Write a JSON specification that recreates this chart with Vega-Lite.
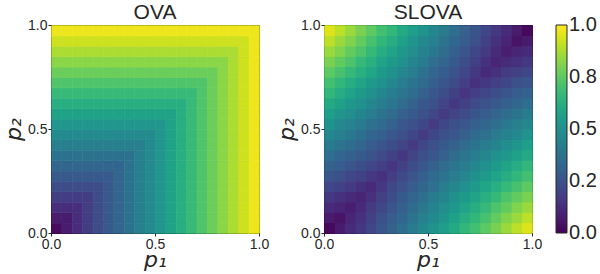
{
"$schema": "https://vega.github.io/schema/vega-lite/v6.json",
"background": "white",
"padding": {"left": 2, "top": 1, "right": 0, "bottom": 0},
"config": {
  "font": "Liberation Sans",
  "view": {"stroke": "#000", "strokeWidth": 1},
  "rect": {"binSpacing": 0},
  "axis": {"labelFontSize": 14, "labelColor": "#262626", "tickColor": "#262626", "tickSize": 3, "domain": false, "grid": false, "labelFlush": false, "labelPadding": 1, "titleFont": "DejaVu Sans", "titleFontStyle": "italic", "titleFontWeight": "normal", "titleFontSize": 22, "titleColor": "#262626", "titlePadding": 2},
  "axisX": {"titlePadding": -2},
  "title": {"fontSize": 21, "fontWeight": "normal", "color": "#262626", "offset": -5},
  "legend": {"gradientLength": 208, "gradientThickness": 11, "labelFontSize": 20, "labelColor": "#262626", "labelOffset": 5, "offset": 24, "gradientStrokeColor": "#262626", "gradientStrokeWidth": 1},
  "concat": {"spacing": 5}
},
"data": {"values": [
{"x":0.025,"y":0.025,"o":0.025,"s":0.02},{"x":0.075,"y":0.025,"o":0.075,"s":0.07},{"x":0.125,"y":0.025,"o":0.125,"s":0.12},{"x":0.175,"y":0.025,"o":0.175,"s":0.16},{"x":0.225,"y":0.025,"o":0.225,"s":0.21},{"x":0.275,"y":0.025,"o":0.275,"s":0.26},{"x":0.325,"y":0.025,"o":0.325,"s":0.31},{"x":0.375,"y":0.025,"o":0.375,"s":0.36},{"x":0.425,"y":0.025,"o":0.425,"s":0.41},{"x":0.475,"y":0.025,"o":0.475,"s":0.46},{"x":0.525,"y":0.025,"o":0.525,"s":0.51},{"x":0.575,"y":0.025,"o":0.575,"s":0.56},{"x":0.625,"y":0.025,"o":0.625,"s":0.61},{"x":0.675,"y":0.025,"o":0.675,"s":0.66},{"x":0.725,"y":0.025,"o":0.725,"s":0.70},{"x":0.775,"y":0.025,"o":0.775,"s":0.75},{"x":0.825,"y":0.025,"o":0.825,"s":0.80},{"x":0.875,"y":0.025,"o":0.875,"s":0.85},{"x":0.925,"y":0.025,"o":0.925,"s":0.90},{"x":0.975,"y":0.025,"o":0.975,"s":0.95},
{"x":0.025,"y":0.075,"o":0.075,"s":0.07},{"x":0.075,"y":0.075,"o":0.075,"s":0.05},{"x":0.125,"y":0.075,"o":0.125,"s":0.10},{"x":0.175,"y":0.075,"o":0.175,"s":0.14},{"x":0.225,"y":0.075,"o":0.225,"s":0.19},{"x":0.275,"y":0.075,"o":0.275,"s":0.24},{"x":0.325,"y":0.075,"o":0.325,"s":0.29},{"x":0.375,"y":0.075,"o":0.375,"s":0.33},{"x":0.425,"y":0.075,"o":0.425,"s":0.38},{"x":0.475,"y":0.075,"o":0.475,"s":0.43},{"x":0.525,"y":0.075,"o":0.525,"s":0.47},{"x":0.575,"y":0.075,"o":0.575,"s":0.52},{"x":0.625,"y":0.075,"o":0.625,"s":0.57},{"x":0.675,"y":0.075,"o":0.675,"s":0.62},{"x":0.725,"y":0.075,"o":0.725,"s":0.66},{"x":0.775,"y":0.075,"o":0.775,"s":0.71},{"x":0.825,"y":0.075,"o":0.825,"s":0.76},{"x":0.875,"y":0.075,"o":0.875,"s":0.81},{"x":0.925,"y":0.075,"o":0.925,"s":0.85},{"x":0.975,"y":0.075,"o":0.975,"s":0.90},
{"x":0.025,"y":0.125,"o":0.125,"s":0.12},{"x":0.075,"y":0.125,"o":0.125,"s":0.10},{"x":0.125,"y":0.125,"o":0.125,"s":0.08},{"x":0.175,"y":0.125,"o":0.175,"s":0.12},{"x":0.225,"y":0.125,"o":0.225,"s":0.17},{"x":0.275,"y":0.125,"o":0.275,"s":0.21},{"x":0.325,"y":0.125,"o":0.325,"s":0.26},{"x":0.375,"y":0.125,"o":0.375,"s":0.30},{"x":0.425,"y":0.125,"o":0.425,"s":0.35},{"x":0.475,"y":0.125,"o":0.475,"s":0.40},{"x":0.525,"y":0.125,"o":0.525,"s":0.44},{"x":0.575,"y":0.125,"o":0.575,"s":0.49},{"x":0.625,"y":0.125,"o":0.625,"s":0.53},{"x":0.675,"y":0.125,"o":0.675,"s":0.58},{"x":0.725,"y":0.125,"o":0.725,"s":0.62},{"x":0.775,"y":0.125,"o":0.775,"s":0.67},{"x":0.825,"y":0.125,"o":0.825,"s":0.72},{"x":0.875,"y":0.125,"o":0.875,"s":0.76},{"x":0.925,"y":0.125,"o":0.925,"s":0.81},{"x":0.975,"y":0.125,"o":0.975,"s":0.85},
{"x":0.025,"y":0.175,"o":0.175,"s":0.16},{"x":0.075,"y":0.175,"o":0.175,"s":0.14},{"x":0.125,"y":0.175,"o":0.175,"s":0.12},{"x":0.175,"y":0.175,"o":0.175,"s":0.10},{"x":0.225,"y":0.175,"o":0.225,"s":0.14},{"x":0.275,"y":0.175,"o":0.275,"s":0.19},{"x":0.325,"y":0.175,"o":0.325,"s":0.23},{"x":0.375,"y":0.175,"o":0.375,"s":0.28},{"x":0.425,"y":0.175,"o":0.425,"s":0.32},{"x":0.475,"y":0.175,"o":0.475,"s":0.36},{"x":0.525,"y":0.175,"o":0.525,"s":0.41},{"x":0.575,"y":0.175,"o":0.575,"s":0.45},{"x":0.625,"y":0.175,"o":0.625,"s":0.50},{"x":0.675,"y":0.175,"o":0.675,"s":0.54},{"x":0.725,"y":0.175,"o":0.725,"s":0.58},{"x":0.775,"y":0.175,"o":0.775,"s":0.63},{"x":0.825,"y":0.175,"o":0.825,"s":0.67},{"x":0.875,"y":0.175,"o":0.875,"s":0.72},{"x":0.925,"y":0.175,"o":0.925,"s":0.76},{"x":0.975,"y":0.175,"o":0.975,"s":0.80},
{"x":0.025,"y":0.225,"o":0.225,"s":0.21},{"x":0.075,"y":0.225,"o":0.225,"s":0.19},{"x":0.125,"y":0.225,"o":0.225,"s":0.17},{"x":0.175,"y":0.225,"o":0.225,"s":0.14},{"x":0.225,"y":0.225,"o":0.225,"s":0.12},{"x":0.275,"y":0.225,"o":0.275,"s":0.16},{"x":0.325,"y":0.225,"o":0.325,"s":0.21},{"x":0.375,"y":0.225,"o":0.375,"s":0.25},{"x":0.425,"y":0.225,"o":0.425,"s":0.29},{"x":0.475,"y":0.225,"o":0.475,"s":0.33},{"x":0.525,"y":0.225,"o":0.525,"s":0.37},{"x":0.575,"y":0.225,"o":0.575,"s":0.42},{"x":0.625,"y":0.225,"o":0.625,"s":0.46},{"x":0.675,"y":0.225,"o":0.675,"s":0.50},{"x":0.725,"y":0.225,"o":0.725,"s":0.54},{"x":0.775,"y":0.225,"o":0.775,"s":0.59},{"x":0.825,"y":0.225,"o":0.825,"s":0.63},{"x":0.875,"y":0.225,"o":0.875,"s":0.67},{"x":0.925,"y":0.225,"o":0.925,"s":0.71},{"x":0.975,"y":0.225,"o":0.975,"s":0.75},
{"x":0.025,"y":0.275,"o":0.275,"s":0.26},{"x":0.075,"y":0.275,"o":0.275,"s":0.24},{"x":0.125,"y":0.275,"o":0.275,"s":0.21},{"x":0.175,"y":0.275,"o":0.275,"s":0.19},{"x":0.225,"y":0.275,"o":0.275,"s":0.16},{"x":0.275,"y":0.275,"o":0.275,"s":0.14},{"x":0.325,"y":0.275,"o":0.325,"s":0.18},{"x":0.375,"y":0.275,"o":0.375,"s":0.22},{"x":0.425,"y":0.275,"o":0.425,"s":0.26},{"x":0.475,"y":0.275,"o":0.475,"s":0.30},{"x":0.525,"y":0.275,"o":0.525,"s":0.34},{"x":0.575,"y":0.275,"o":0.575,"s":0.38},{"x":0.625,"y":0.275,"o":0.625,"s":0.42},{"x":0.675,"y":0.275,"o":0.675,"s":0.46},{"x":0.725,"y":0.275,"o":0.725,"s":0.50},{"x":0.775,"y":0.275,"o":0.775,"s":0.54},{"x":0.825,"y":0.275,"o":0.825,"s":0.58},{"x":0.875,"y":0.275,"o":0.875,"s":0.62},{"x":0.925,"y":0.275,"o":0.925,"s":0.66},{"x":0.975,"y":0.275,"o":0.975,"s":0.70},
{"x":0.025,"y":0.325,"o":0.325,"s":0.31},{"x":0.075,"y":0.325,"o":0.325,"s":0.29},{"x":0.125,"y":0.325,"o":0.325,"s":0.26},{"x":0.175,"y":0.325,"o":0.325,"s":0.23},{"x":0.225,"y":0.325,"o":0.325,"s":0.21},{"x":0.275,"y":0.325,"o":0.325,"s":0.18},{"x":0.325,"y":0.325,"o":0.325,"s":0.15},{"x":0.375,"y":0.325,"o":0.375,"s":0.19},{"x":0.425,"y":0.325,"o":0.425,"s":0.23},{"x":0.475,"y":0.325,"o":0.475,"s":0.27},{"x":0.525,"y":0.325,"o":0.525,"s":0.31},{"x":0.575,"y":0.325,"o":0.575,"s":0.35},{"x":0.625,"y":0.325,"o":0.625,"s":0.39},{"x":0.675,"y":0.325,"o":0.675,"s":0.42},{"x":0.725,"y":0.325,"o":0.725,"s":0.46},{"x":0.775,"y":0.325,"o":0.775,"s":0.50},{"x":0.825,"y":0.325,"o":0.825,"s":0.54},{"x":0.875,"y":0.325,"o":0.875,"s":0.58},{"x":0.925,"y":0.325,"o":0.925,"s":0.62},{"x":0.975,"y":0.325,"o":0.975,"s":0.66},
{"x":0.025,"y":0.375,"o":0.375,"s":0.36},{"x":0.075,"y":0.375,"o":0.375,"s":0.33},{"x":0.125,"y":0.375,"o":0.375,"s":0.30},{"x":0.175,"y":0.375,"o":0.375,"s":0.28},{"x":0.225,"y":0.375,"o":0.375,"s":0.25},{"x":0.275,"y":0.375,"o":0.375,"s":0.22},{"x":0.325,"y":0.375,"o":0.375,"s":0.19},{"x":0.375,"y":0.375,"o":0.375,"s":0.16},{"x":0.425,"y":0.375,"o":0.425,"s":0.20},{"x":0.475,"y":0.375,"o":0.475,"s":0.24},{"x":0.525,"y":0.375,"o":0.525,"s":0.27},{"x":0.575,"y":0.375,"o":0.575,"s":0.31},{"x":0.625,"y":0.375,"o":0.625,"s":0.35},{"x":0.675,"y":0.375,"o":0.675,"s":0.39},{"x":0.725,"y":0.375,"o":0.725,"s":0.42},{"x":0.775,"y":0.375,"o":0.775,"s":0.46},{"x":0.825,"y":0.375,"o":0.825,"s":0.50},{"x":0.875,"y":0.375,"o":0.875,"s":0.53},{"x":0.925,"y":0.375,"o":0.925,"s":0.57},{"x":0.975,"y":0.375,"o":0.975,"s":0.61},
{"x":0.025,"y":0.425,"o":0.425,"s":0.41},{"x":0.075,"y":0.425,"o":0.425,"s":0.38},{"x":0.125,"y":0.425,"o":0.425,"s":0.35},{"x":0.175,"y":0.425,"o":0.425,"s":0.32},{"x":0.225,"y":0.425,"o":0.425,"s":0.29},{"x":0.275,"y":0.425,"o":0.425,"s":0.26},{"x":0.325,"y":0.425,"o":0.425,"s":0.23},{"x":0.375,"y":0.425,"o":0.425,"s":0.20},{"x":0.425,"y":0.425,"o":0.425,"s":0.17},{"x":0.475,"y":0.425,"o":0.475,"s":0.21},{"x":0.525,"y":0.425,"o":0.525,"s":0.24},{"x":0.575,"y":0.425,"o":0.575,"s":0.28},{"x":0.625,"y":0.425,"o":0.625,"s":0.31},{"x":0.675,"y":0.425,"o":0.675,"s":0.35},{"x":0.725,"y":0.425,"o":0.725,"s":0.38},{"x":0.775,"y":0.425,"o":0.775,"s":0.42},{"x":0.825,"y":0.425,"o":0.825,"s":0.45},{"x":0.875,"y":0.425,"o":0.875,"s":0.49},{"x":0.925,"y":0.425,"o":0.925,"s":0.52},{"x":0.975,"y":0.425,"o":0.975,"s":0.56},
{"x":0.025,"y":0.475,"o":0.475,"s":0.46},{"x":0.075,"y":0.475,"o":0.475,"s":0.43},{"x":0.125,"y":0.475,"o":0.475,"s":0.40},{"x":0.175,"y":0.475,"o":0.475,"s":0.36},{"x":0.225,"y":0.475,"o":0.475,"s":0.33},{"x":0.275,"y":0.475,"o":0.475,"s":0.30},{"x":0.325,"y":0.475,"o":0.475,"s":0.27},{"x":0.375,"y":0.475,"o":0.475,"s":0.24},{"x":0.425,"y":0.475,"o":0.475,"s":0.21},{"x":0.475,"y":0.475,"o":0.475,"s":0.17},{"x":0.525,"y":0.475,"o":0.525,"s":0.21},{"x":0.575,"y":0.475,"o":0.575,"s":0.24},{"x":0.625,"y":0.475,"o":0.625,"s":0.27},{"x":0.675,"y":0.475,"o":0.675,"s":0.31},{"x":0.725,"y":0.475,"o":0.725,"s":0.34},{"x":0.775,"y":0.475,"o":0.775,"s":0.37},{"x":0.825,"y":0.475,"o":0.825,"s":0.41},{"x":0.875,"y":0.475,"o":0.875,"s":0.44},{"x":0.925,"y":0.475,"o":0.925,"s":0.47},{"x":0.975,"y":0.475,"o":0.975,"s":0.51},
{"x":0.025,"y":0.525,"o":0.525,"s":0.51},{"x":0.075,"y":0.525,"o":0.525,"s":0.47},{"x":0.125,"y":0.525,"o":0.525,"s":0.44},{"x":0.175,"y":0.525,"o":0.525,"s":0.41},{"x":0.225,"y":0.525,"o":0.525,"s":0.37},{"x":0.275,"y":0.525,"o":0.525,"s":0.34},{"x":0.325,"y":0.525,"o":0.525,"s":0.31},{"x":0.375,"y":0.525,"o":0.525,"s":0.27},{"x":0.425,"y":0.525,"o":0.525,"s":0.24},{"x":0.475,"y":0.525,"o":0.525,"s":0.21},{"x":0.525,"y":0.525,"o":0.525,"s":0.17},{"x":0.575,"y":0.525,"o":0.575,"s":0.21},{"x":0.625,"y":0.525,"o":0.625,"s":0.24},{"x":0.675,"y":0.525,"o":0.675,"s":0.27},{"x":0.725,"y":0.525,"o":0.725,"s":0.30},{"x":0.775,"y":0.525,"o":0.775,"s":0.33},{"x":0.825,"y":0.525,"o":0.825,"s":0.36},{"x":0.875,"y":0.525,"o":0.875,"s":0.40},{"x":0.925,"y":0.525,"o":0.925,"s":0.43},{"x":0.975,"y":0.525,"o":0.975,"s":0.46},
{"x":0.025,"y":0.575,"o":0.575,"s":0.56},{"x":0.075,"y":0.575,"o":0.575,"s":0.52},{"x":0.125,"y":0.575,"o":0.575,"s":0.49},{"x":0.175,"y":0.575,"o":0.575,"s":0.45},{"x":0.225,"y":0.575,"o":0.575,"s":0.42},{"x":0.275,"y":0.575,"o":0.575,"s":0.38},{"x":0.325,"y":0.575,"o":0.575,"s":0.35},{"x":0.375,"y":0.575,"o":0.575,"s":0.31},{"x":0.425,"y":0.575,"o":0.575,"s":0.28},{"x":0.475,"y":0.575,"o":0.575,"s":0.24},{"x":0.525,"y":0.575,"o":0.575,"s":0.21},{"x":0.575,"y":0.575,"o":0.575,"s":0.17},{"x":0.625,"y":0.575,"o":0.625,"s":0.20},{"x":0.675,"y":0.575,"o":0.675,"s":0.23},{"x":0.725,"y":0.575,"o":0.725,"s":0.26},{"x":0.775,"y":0.575,"o":0.775,"s":0.29},{"x":0.825,"y":0.575,"o":0.825,"s":0.32},{"x":0.875,"y":0.575,"o":0.875,"s":0.35},{"x":0.925,"y":0.575,"o":0.925,"s":0.38},{"x":0.975,"y":0.575,"o":0.975,"s":0.41},
{"x":0.025,"y":0.625,"o":0.625,"s":0.61},{"x":0.075,"y":0.625,"o":0.625,"s":0.57},{"x":0.125,"y":0.625,"o":0.625,"s":0.53},{"x":0.175,"y":0.625,"o":0.625,"s":0.50},{"x":0.225,"y":0.625,"o":0.625,"s":0.46},{"x":0.275,"y":0.625,"o":0.625,"s":0.42},{"x":0.325,"y":0.625,"o":0.625,"s":0.39},{"x":0.375,"y":0.625,"o":0.625,"s":0.35},{"x":0.425,"y":0.625,"o":0.625,"s":0.31},{"x":0.475,"y":0.625,"o":0.625,"s":0.27},{"x":0.525,"y":0.625,"o":0.625,"s":0.24},{"x":0.575,"y":0.625,"o":0.625,"s":0.20},{"x":0.625,"y":0.625,"o":0.625,"s":0.16},{"x":0.675,"y":0.625,"o":0.675,"s":0.19},{"x":0.725,"y":0.625,"o":0.725,"s":0.22},{"x":0.775,"y":0.625,"o":0.775,"s":0.25},{"x":0.825,"y":0.625,"o":0.825,"s":0.28},{"x":0.875,"y":0.625,"o":0.875,"s":0.30},{"x":0.925,"y":0.625,"o":0.925,"s":0.33},{"x":0.975,"y":0.625,"o":0.975,"s":0.36},
{"x":0.025,"y":0.675,"o":0.675,"s":0.66},{"x":0.075,"y":0.675,"o":0.675,"s":0.62},{"x":0.125,"y":0.675,"o":0.675,"s":0.58},{"x":0.175,"y":0.675,"o":0.675,"s":0.54},{"x":0.225,"y":0.675,"o":0.675,"s":0.50},{"x":0.275,"y":0.675,"o":0.675,"s":0.46},{"x":0.325,"y":0.675,"o":0.675,"s":0.42},{"x":0.375,"y":0.675,"o":0.675,"s":0.39},{"x":0.425,"y":0.675,"o":0.675,"s":0.35},{"x":0.475,"y":0.675,"o":0.675,"s":0.31},{"x":0.525,"y":0.675,"o":0.675,"s":0.27},{"x":0.575,"y":0.675,"o":0.675,"s":0.23},{"x":0.625,"y":0.675,"o":0.675,"s":0.19},{"x":0.675,"y":0.675,"o":0.675,"s":0.15},{"x":0.725,"y":0.675,"o":0.725,"s":0.18},{"x":0.775,"y":0.675,"o":0.775,"s":0.21},{"x":0.825,"y":0.675,"o":0.825,"s":0.23},{"x":0.875,"y":0.675,"o":0.875,"s":0.26},{"x":0.925,"y":0.675,"o":0.925,"s":0.29},{"x":0.975,"y":0.675,"o":0.975,"s":0.31},
{"x":0.025,"y":0.725,"o":0.725,"s":0.70},{"x":0.075,"y":0.725,"o":0.725,"s":0.66},{"x":0.125,"y":0.725,"o":0.725,"s":0.62},{"x":0.175,"y":0.725,"o":0.725,"s":0.58},{"x":0.225,"y":0.725,"o":0.725,"s":0.54},{"x":0.275,"y":0.725,"o":0.725,"s":0.50},{"x":0.325,"y":0.725,"o":0.725,"s":0.46},{"x":0.375,"y":0.725,"o":0.725,"s":0.42},{"x":0.425,"y":0.725,"o":0.725,"s":0.38},{"x":0.475,"y":0.725,"o":0.725,"s":0.34},{"x":0.525,"y":0.725,"o":0.725,"s":0.30},{"x":0.575,"y":0.725,"o":0.725,"s":0.26},{"x":0.625,"y":0.725,"o":0.725,"s":0.22},{"x":0.675,"y":0.725,"o":0.725,"s":0.18},{"x":0.725,"y":0.725,"o":0.725,"s":0.14},{"x":0.775,"y":0.725,"o":0.775,"s":0.16},{"x":0.825,"y":0.725,"o":0.825,"s":0.19},{"x":0.875,"y":0.725,"o":0.875,"s":0.21},{"x":0.925,"y":0.725,"o":0.925,"s":0.24},{"x":0.975,"y":0.725,"o":0.975,"s":0.26},
{"x":0.025,"y":0.775,"o":0.775,"s":0.75},{"x":0.075,"y":0.775,"o":0.775,"s":0.71},{"x":0.125,"y":0.775,"o":0.775,"s":0.67},{"x":0.175,"y":0.775,"o":0.775,"s":0.63},{"x":0.225,"y":0.775,"o":0.775,"s":0.59},{"x":0.275,"y":0.775,"o":0.775,"s":0.54},{"x":0.325,"y":0.775,"o":0.775,"s":0.50},{"x":0.375,"y":0.775,"o":0.775,"s":0.46},{"x":0.425,"y":0.775,"o":0.775,"s":0.42},{"x":0.475,"y":0.775,"o":0.775,"s":0.37},{"x":0.525,"y":0.775,"o":0.775,"s":0.33},{"x":0.575,"y":0.775,"o":0.775,"s":0.29},{"x":0.625,"y":0.775,"o":0.775,"s":0.25},{"x":0.675,"y":0.775,"o":0.775,"s":0.21},{"x":0.725,"y":0.775,"o":0.775,"s":0.16},{"x":0.775,"y":0.775,"o":0.775,"s":0.12},{"x":0.825,"y":0.775,"o":0.825,"s":0.14},{"x":0.875,"y":0.775,"o":0.875,"s":0.17},{"x":0.925,"y":0.775,"o":0.925,"s":0.19},{"x":0.975,"y":0.775,"o":0.975,"s":0.21},
{"x":0.025,"y":0.825,"o":0.825,"s":0.80},{"x":0.075,"y":0.825,"o":0.825,"s":0.76},{"x":0.125,"y":0.825,"o":0.825,"s":0.72},{"x":0.175,"y":0.825,"o":0.825,"s":0.67},{"x":0.225,"y":0.825,"o":0.825,"s":0.63},{"x":0.275,"y":0.825,"o":0.825,"s":0.58},{"x":0.325,"y":0.825,"o":0.825,"s":0.54},{"x":0.375,"y":0.825,"o":0.825,"s":0.50},{"x":0.425,"y":0.825,"o":0.825,"s":0.45},{"x":0.475,"y":0.825,"o":0.825,"s":0.41},{"x":0.525,"y":0.825,"o":0.825,"s":0.36},{"x":0.575,"y":0.825,"o":0.825,"s":0.32},{"x":0.625,"y":0.825,"o":0.825,"s":0.28},{"x":0.675,"y":0.825,"o":0.825,"s":0.23},{"x":0.725,"y":0.825,"o":0.825,"s":0.19},{"x":0.775,"y":0.825,"o":0.825,"s":0.14},{"x":0.825,"y":0.825,"o":0.825,"s":0.10},{"x":0.875,"y":0.825,"o":0.875,"s":0.12},{"x":0.925,"y":0.825,"o":0.925,"s":0.14},{"x":0.975,"y":0.825,"o":0.975,"s":0.16},
{"x":0.025,"y":0.875,"o":0.875,"s":0.85},{"x":0.075,"y":0.875,"o":0.875,"s":0.81},{"x":0.125,"y":0.875,"o":0.875,"s":0.76},{"x":0.175,"y":0.875,"o":0.875,"s":0.72},{"x":0.225,"y":0.875,"o":0.875,"s":0.67},{"x":0.275,"y":0.875,"o":0.875,"s":0.62},{"x":0.325,"y":0.875,"o":0.875,"s":0.58},{"x":0.375,"y":0.875,"o":0.875,"s":0.53},{"x":0.425,"y":0.875,"o":0.875,"s":0.49},{"x":0.475,"y":0.875,"o":0.875,"s":0.44},{"x":0.525,"y":0.875,"o":0.875,"s":0.40},{"x":0.575,"y":0.875,"o":0.875,"s":0.35},{"x":0.625,"y":0.875,"o":0.875,"s":0.30},{"x":0.675,"y":0.875,"o":0.875,"s":0.26},{"x":0.725,"y":0.875,"o":0.875,"s":0.21},{"x":0.775,"y":0.875,"o":0.875,"s":0.17},{"x":0.825,"y":0.875,"o":0.875,"s":0.12},{"x":0.875,"y":0.875,"o":0.875,"s":0.08},{"x":0.925,"y":0.875,"o":0.925,"s":0.10},{"x":0.975,"y":0.875,"o":0.975,"s":0.12},
{"x":0.025,"y":0.925,"o":0.925,"s":0.90},{"x":0.075,"y":0.925,"o":0.925,"s":0.85},{"x":0.125,"y":0.925,"o":0.925,"s":0.81},{"x":0.175,"y":0.925,"o":0.925,"s":0.76},{"x":0.225,"y":0.925,"o":0.925,"s":0.71},{"x":0.275,"y":0.925,"o":0.925,"s":0.66},{"x":0.325,"y":0.925,"o":0.925,"s":0.62},{"x":0.375,"y":0.925,"o":0.925,"s":0.57},{"x":0.425,"y":0.925,"o":0.925,"s":0.52},{"x":0.475,"y":0.925,"o":0.925,"s":0.47},{"x":0.525,"y":0.925,"o":0.925,"s":0.43},{"x":0.575,"y":0.925,"o":0.925,"s":0.38},{"x":0.625,"y":0.925,"o":0.925,"s":0.33},{"x":0.675,"y":0.925,"o":0.925,"s":0.29},{"x":0.725,"y":0.925,"o":0.925,"s":0.24},{"x":0.775,"y":0.925,"o":0.925,"s":0.19},{"x":0.825,"y":0.925,"o":0.925,"s":0.14},{"x":0.875,"y":0.925,"o":0.925,"s":0.10},{"x":0.925,"y":0.925,"o":0.925,"s":0.05},{"x":0.975,"y":0.925,"o":0.975,"s":0.07},
{"x":0.025,"y":0.975,"o":0.975,"s":0.95},{"x":0.075,"y":0.975,"o":0.975,"s":0.90},{"x":0.125,"y":0.975,"o":0.975,"s":0.85},{"x":0.175,"y":0.975,"o":0.975,"s":0.80},{"x":0.225,"y":0.975,"o":0.975,"s":0.75},{"x":0.275,"y":0.975,"o":0.975,"s":0.70},{"x":0.325,"y":0.975,"o":0.975,"s":0.66},{"x":0.375,"y":0.975,"o":0.975,"s":0.61},{"x":0.425,"y":0.975,"o":0.975,"s":0.56},{"x":0.475,"y":0.975,"o":0.975,"s":0.51},{"x":0.525,"y":0.975,"o":0.975,"s":0.46},{"x":0.575,"y":0.975,"o":0.975,"s":0.41},{"x":0.625,"y":0.975,"o":0.975,"s":0.36},{"x":0.675,"y":0.975,"o":0.975,"s":0.31},{"x":0.725,"y":0.975,"o":0.975,"s":0.26},{"x":0.775,"y":0.975,"o":0.975,"s":0.21},{"x":0.825,"y":0.975,"o":0.975,"s":0.16},{"x":0.875,"y":0.975,"o":0.975,"s":0.12},{"x":0.925,"y":0.975,"o":0.975,"s":0.07},{"x":0.975,"y":0.975,"o":0.975,"s":0.02}
]},
"hconcat": [
  {
    "title": "OVA",
    "width": 208, "height": 208,
    "mark": {"type": "rect", "strokeWidth": 0.6},
    "encoding": {
      "x": {"field": "x", "type": "quantitative", "bin": {"step": 0.05, "extent": [0, 1]}, "scale": {"domain": [0, 1], "nice": false}, "axis": {"values": [0, 0.5, 1], "format": ".1f", "title": "p₁"}},
      "y": {"field": "y", "type": "quantitative", "bin": {"step": 0.05, "extent": [0, 1]}, "scale": {"domain": [0, 1], "nice": false}, "axis": {"values": [0, 0.5, 1], "format": ".1f", "title": "p₂"}},
      "color": {"field": "o", "type": "quantitative", "scale": {"scheme": "viridis", "domain": [0, 1]}, "legend": null},
      "stroke": {"field": "o", "type": "quantitative", "scale": {"scheme": "viridis", "domain": [0, 1]}, "legend": null}
    }
  },
  {
    "title": "SLOVA",
    "width": 208, "height": 208,
    "encoding": {
      "x": {"field": "x", "type": "quantitative", "bin": {"step": 0.05, "extent": [0, 1]}, "scale": {"domain": [0, 1], "nice": false}, "axis": {"values": [0, 0.5, 1], "format": ".1f", "title": "p₁"}},
      "y": {"field": "y", "type": "quantitative", "bin": {"step": 0.05, "extent": [0, 1]}, "scale": {"domain": [0, 1], "nice": false}, "axis": {"values": [0, 0.5, 1], "format": ".1f", "title": "p₂"}},
      "color": {"field": "s", "type": "quantitative", "scale": {"scheme": "viridis", "domain": [0, 1]}, "legend": {"title": null, "type": "gradient", "values": [0, 0.25, 0.5, 0.75, 1], "labelExpr": "datum.value == 0 ? '0.0' : datum.value == 0.25 ? '0.2' : datum.value == 0.5 ? '0.5' : datum.value == 0.75 ? '0.8' : '1.0'", "encode": {"labels": {"update": {"baseline": {"value": "middle"}}}}}}
    },
    "layer": [
      {"mark": {"type": "rect"}},
      {"mark": {"type": "rect"}},
      {"mark": {"type": "rect"}}
    ]
  }
],
"resolve": {"scale": {"color": "independent", "stroke": "independent", "x": "independent", "y": "independent"}}
}
